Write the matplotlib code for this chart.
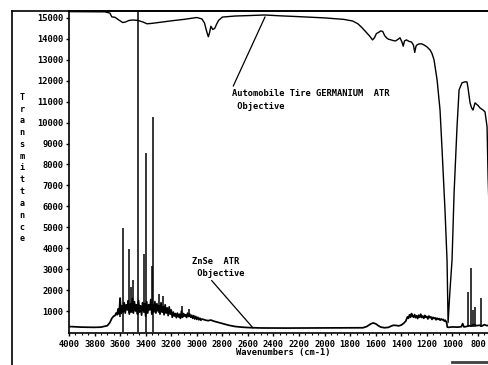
import numpy as np
import matplotlib
matplotlib.use('Agg')
import matplotlib.pyplot as plt
from matplotlib.lines import Line2D
from matplotlib.ticker import MultipleLocator

# Germanium ATR objective trace (upper curve)
ge_wn = [4000, 3720, 3680, 3665, 3640, 3610, 3580, 3560, 3530, 3500, 3460, 3420,
         3390, 3350, 3300, 3200, 3100, 3000, 2960, 2940, 2925, 2910, 2900, 2890,
         2875, 2860, 2845, 2830, 2800, 2700, 2600, 2470, 2350, 2200, 2000, 1850,
         1780, 1740, 1710, 1680, 1650, 1625, 1610, 1595, 1580, 1560, 1545, 1530,
         1515, 1500, 1485, 1465, 1445, 1425, 1410, 1395, 1385, 1375, 1360, 1340,
         1320, 1305, 1295, 1285, 1275, 1260, 1240, 1220, 1200, 1175, 1160, 1144,
         1120, 1097, 1081, 1058, 1042, 1034, 1020, 1003, 987, 964, 948, 925, 900,
         886, 878, 862, 850, 839, 823, 800, 784, 760, 745, 729, 721, 712]
ge_val = [15300, 15290, 15230, 15050, 15030, 14900, 14780, 14800, 14880, 14900,
          14880, 14800, 14720, 14740, 14780, 14860, 14930, 15020, 14950, 14760,
          14400, 14100, 14300, 14600, 14450, 14500, 14700, 14880, 15040, 15090,
          15110, 15140, 15100, 15060, 15000, 14930, 14850, 14720, 14550, 14350,
          14150, 13950, 14050, 14250, 14300, 14380, 14350, 14150, 14050, 13980,
          13960, 13920, 13900, 13980, 14050, 13850, 13650, 13900, 13950, 13880,
          13850, 13700, 13350, 13650, 13720, 13760, 13760, 13700, 13620, 13470,
          13300, 13000, 12040, 10600, 8700, 5800, 3400, 450, 1900, 3440, 6640,
          9800, 11560, 11900, 11950, 11940, 11660, 10940, 10700, 10600, 10940,
          10820, 10700, 10600, 10510, 9800, 7400, 5600]

# ZnSe ATR objective trace (lower curve), smooth and noisy pieces
zn_head_wn = [4000, 3900, 3800, 3750, 3700, 3680, 3665, 3650]
zn_head_val = [260, 230, 220, 230, 300, 450, 650, 760]

# 3640 -> 2960 cm-1, one reading every 8 cm-1
zn_band1_val = [780, 900, 820, 1100, 850, 1620, 880, 1250, 950, 1400, 900, 1300,
                1050, 1500, 850, 1350, 980, 1600, 900, 1450, 1000, 1300, 850, 1500,
                950, 1250, 800, 1400, 1000, 1350, 750, 1450, 900, 1300, 1050, 1550,
                850, 1300, 950, 1450, 900, 1350, 1000, 1250, 850, 1400, 950, 1200,
                820, 1300, 900, 1150, 780, 1200, 850, 1050,
                700, 950, 760, 880, 680, 900, 720, 850, 650, 1000, 700, 880, 760,
                820, 690, 900, 740, 860, 700, 800, 650, 780, 620, 740, 600, 700,
                580, 660, 560, 620]

zn_mid_wn = [2950, 2930, 2910, 2890, 2870, 2840, 2800, 2750, 2700, 2650, 2600,
             2500, 2300, 2000, 1750, 1700, 1670, 1640, 1620, 1600, 1580, 1560,
             1530, 1500, 1480, 1460, 1440, 1420, 1400, 1380, 1365]
zn_mid_val = [600, 560, 540, 570, 520, 470, 400, 320, 260, 230, 210, 190, 185,
              190, 190, 200, 260, 380, 430, 390, 300, 230, 200, 220, 280, 320,
              310, 290, 330, 420, 520]

# 1360 -> 1048 cm-1, one reading every 8 cm-1
zn_band2_val = [600, 720, 650, 820, 700, 880, 760, 700, 830, 680, 780, 640, 800,
                700, 850, 690, 760, 650, 790, 700, 740, 620, 760, 680, 720, 600,
                700, 640, 680, 580, 660, 600, 640, 560, 620, 580, 600, 520, 560, 480]

zn_tail_wn = [1044, 1040, 1030, 1000, 960, 930, 920, 910, 890, 870, 860, 830,
              810, 790, 770, 750, 730, 706]
zn_tail_val = [400, 230, 220, 240, 230, 250, 400, 240, 260, 300, 280, 350, 300,
               320, 280, 350, 300, 330]

# sharp spikes in the ZnSe trace: position, foot, tip
spike_wn = [3600, 3580, 3530, 3515, 3500, 3460, 3410, 3397, 3352, 3340, 3296,
            3264, 3116, 3060, 878, 854, 840, 825, 776]
spike_lo = [700, 0, 900, 900, 900, 0, 900, 0, 900, 0, 900, 900, 700, 700, 240,
            240, 240, 240, 240]
spike_hi = [1620, 4950, 3960, 2150, 2480, 16000, 3730, 8550, 3150, 10270, 1800,
            1700, 1250, 1100, 1900, 3060, 1050, 1200, 1620]

x_ticks = list(range(4000, 799, -200))
y_ticks = list(range(1000, 15001, 1000))

mono = dict(family='DejaVu Sans Mono', weight='bold')

W, H = 488, 365
fig = plt.figure(figsize=(W / 100, H / 100), dpi=100)
ax = fig.add_axes([69 / W, 32 / H, 421 / W, 322 / H])

zn_wn = np.concatenate([zn_head_wn,
                        np.linspace(3640, 2960, len(zn_band1_val)),
                        zn_mid_wn,
                        np.linspace(1360, 1048, len(zn_band2_val)),
                        zn_tail_wn])
zn_val = np.concatenate([zn_head_val, zn_band1_val, zn_mid_val,
                         zn_band2_val, zn_tail_val])

ax.plot(ge_wn, ge_val, color='black', lw=1.0)
ax.plot(zn_wn, zn_val, color='black', lw=1.25)
ax.vlines(spike_wn, spike_lo, spike_hi, color='black', lw=1.1)

ax.set_xlim(4000, 706)
ax.set_ylim(-50, 15330)

for s in ['left', 'top', 'bottom']:
    ax.spines[s].set_linewidth(1.2)
ax.spines['right'].set_visible(False)

ax.set_xticks(x_ticks)
ax.set_xticklabels([str(t) for t in x_ticks])
ax.xaxis.set_minor_locator(MultipleLocator(50))
ax.set_yticks(y_ticks)
ax.set_yticklabels([str(t) for t in y_ticks])
ax.tick_params(axis='both', which='major', direction='out', length=2.5,
               width=1.0, pad=1.5, labelsize=6.3)
ax.tick_params(axis='x', which='minor', direction='out', length=1.5, width=0.8)
ax.tick_params(axis='x', which='major', pad=2.5)
for lab in ax.get_xticklabels() + ax.get_yticklabels():
    lab.set_fontfamily(mono['family'])
    lab.set_fontweight(mono['weight'])

# callouts for both traces
ax.annotate('Automobile Tire GERMANIUM  ATR\n Objective',
            xy=(2466, 15050), xytext=(2725, 11610), ha='left', va='top',
            fontsize=6.3, linespacing=1.55, **mono,
            arrowprops=dict(arrowstyle='-', color='black', lw=0.9,
                            shrinkA=0, shrinkB=0, relpos=(0.0, 1.0)))
ax.annotate('ZnSe  ATR\n Objective',
            xy=(2560, 190), xytext=(3038, 3600), ha='left', va='top',
            fontsize=6.3, linespacing=1.45, **mono,
            arrowprops=dict(arrowstyle='-', color='black', lw=0.9,
                            shrinkA=0, shrinkB=0, relpos=(0.03, 0.85)))

fig.text(283 / W, 1 - 352 / H, 'Wavenumbers (cm-1)', ha='center', va='center',
         fontsize=6.3, **mono)
fig.text(22 / W, 1 - 168 / H, '\n'.join('Transmittance'), ha='center',
         va='center', fontsize=6.0, linespacing=1.4, **mono)

# outer frame of the chart sheet
fig.add_artist(Line2D([12 / W, 12 / W], [0, 1 - 11 / H], color='black', lw=1.2,
                      transform=fig.transFigure))
fig.add_artist(Line2D([12 / W, 1], [1 - 11 / H, 1 - 11 / H], color='black',
                      lw=1.2, transform=fig.transFigure))
fig.add_artist(Line2D([452 / W, 1], [1 - 362 / H, 1 - 362 / H], color='0.25',
                      lw=2.0, transform=fig.transFigure))

fig.savefig('out.png', dpi=100)
